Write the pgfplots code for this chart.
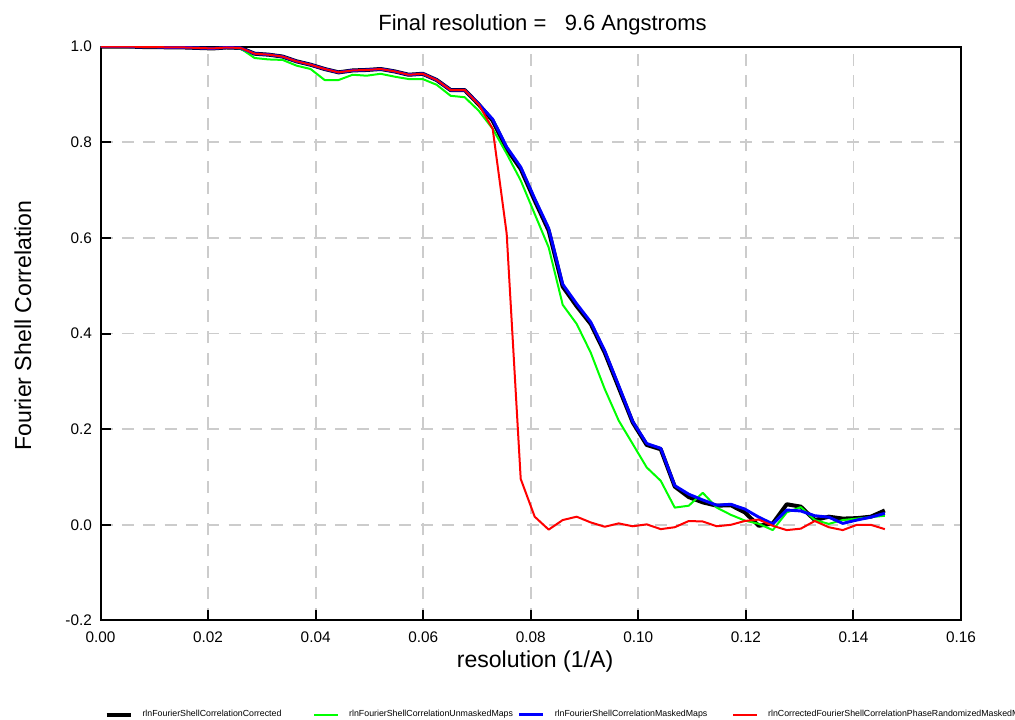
\documentclass[border=0pt]{standalone}
\usepackage{pgfplots}
\usepackage{pgfplotstable}
\pgfplotsset{compat=1.18}
\usepackage{fontspec}
\setmainfont{Liberation Sans}
\definecolor{fscgreen}{RGB}{0,255,0}
\definecolor{fscblue}{RGB}{0,0,255}
\definecolor{fscred}{RGB}{255,0,0}
\definecolor{gridgray}{RGB}{204,204,204}

\pgfplotstableread{
x       blk    grn    blu    red
0.00000 1.000  1.000  1.000  1.000
0.00260 1.000  1.000  1.000  1.000
0.00521 1.000  1.000  1.000  1.000
0.00781 0.999  0.999  0.999  0.999
0.01042 0.999  0.999  0.999  0.999
0.01302 0.998  0.998  0.998  0.998
0.01563 0.998  0.998  0.998  0.998
0.01823 0.997  0.997  0.997  0.997
0.02083 0.996  0.996  0.996  0.996
0.02344 0.998  0.998  0.998  0.998
0.02604 0.997  0.996  0.997  0.997
0.02865 0.985  0.976  0.985  0.985
0.03125 0.983  0.973  0.983  0.983
0.03385 0.979  0.972  0.979  0.979
0.03646 0.969  0.960  0.969  0.969
0.03906 0.962  0.953  0.962  0.962
0.04167 0.953  0.930  0.953  0.953
0.04427 0.946  0.930  0.946  0.946
0.04688 0.950  0.941  0.950  0.950
0.04948 0.951  0.939  0.951  0.951
0.05208 0.953  0.943  0.953  0.953
0.05469 0.948  0.937  0.948  0.948
0.05729 0.941  0.932  0.941  0.941
0.05990 0.943  0.932  0.943  0.943
0.06250 0.930  0.920  0.930  0.930
0.06510 0.909  0.897  0.909  0.909
0.06771 0.909  0.894  0.909  0.909
0.07031 0.879  0.866  0.880  0.879
0.07292 0.845  0.828  0.848  0.828
0.07552 0.786  0.776  0.790  0.609
0.07813 0.744  0.720  0.748  0.096
0.08073 0.678  0.650  0.682  0.017
0.08333 0.615  0.580  0.620  -0.010
0.08594 0.498  0.460  0.503  0.010
0.08854 0.457  0.420  0.462  0.017
0.09115 0.420  0.360  0.424  0.005
0.09375 0.360  0.284  0.364  -0.004
0.09635 0.287  0.218  0.291  0.003
0.09896 0.214  0.169  0.216  -0.003
0.10156 0.167  0.120  0.170  0.001
0.10417 0.158  0.092  0.160  -0.009
0.10677 0.080  0.036  0.082  -0.005
0.10938 0.058  0.040  0.064  0.008
0.11198 0.047  0.067  0.052  0.007
0.11458 0.040  0.036  0.041  -0.003
0.11719 0.041  0.021  0.043  0.000
0.11979 0.026  0.009  0.033  0.008
0.12240 -0.002 0.002  0.016  0.011
0.12500 0.003  -0.011 0.002  -0.002
0.12760 0.043  0.026  0.031  -0.011
0.13021 0.038  0.037  0.029  -0.008
0.13281 0.010  0.010  0.019  0.008
0.13542 0.017  0.002  0.016  -0.005
0.13802 0.013  0.010  0.003  -0.011
0.14063 0.014  0.013  0.010  0.000
0.14323 0.017  0.016  0.016  0.000
0.14583 0.030  0.019  0.024  -0.009
}\fscdata

\begin{document}
\begin{tikzpicture}
\path[use as bounding box] (-75.4bp,-74.6bp) rectangle (685.9bp,465.4bp);
\begin{axis}[
  scale only axis,
  width=645.4bp, height=430.5bp,
  xmin=0, xmax=0.16, ymin=-0.2, ymax=1.0,
  xtick={0,0.02,0.04,0.06,0.08,0.1,0.12,0.14,0.16},
  ytick={-0.2,0,0.2,0.4,0.6,0.8,1.0},
  xticklabel style={yshift=-5bp, /pgf/number format/.cd, fixed, fixed zerofill, precision=2},
  yticklabel style={xshift=-3bp, /pgf/number format/.cd, fixed, fixed zerofill, precision=1},
  /pgf/number format/assume math mode=true,
  ticklabel style={font=\fontsize{11.5bp}{13bp}\selectfont},
  tick align=inside,
  xtick pos=bottom, ytick pos=left,
  major tick length=7.5bp,
  tick style={black, line width=1.5bp},
  axis line style={black, line width=1.5bp},
  grid=major,
  major grid style={gridgray, line width=1.3bp, dash pattern=on 9bp off 7bp},
  title={Final resolution =\ \ \ 9.6 Angstroms},
  title style={at={(axis description cs:0.5,1)}, anchor=base, yshift=5.7bp, xshift=8.8bp,
    font=\fontsize{16.5bp}{19bp}\selectfont},
  xlabel={resolution (1/A)},
  xlabel style={at={(axis description cs:0.5,0)}, anchor=base, yshift=-35.6bp, xshift=3.2bp,
    font=\fontsize{17.3bp}{20bp}\selectfont},
  ylabel={Fourier Shell Correlation},
  ylabel style={at={(axis description cs:-0.0808,0.514)}, anchor=base,
    font=\fontsize{17.3bp}{20bp}\selectfont},
  legend columns=4,
  legend style={at={(axis description cs:0.0047,-0.1638)}, anchor=west, draw=none, fill=none,
    inner sep=0pt, outer sep=0pt, column sep=7.5bp,
    nodes={inner sep=0pt},
    /tikz/every even column/.append style={column sep=0pt},
    font=\fontsize{6.6bp}{8bp}\selectfont},
  legend cell align=left,
  legend image code/.code={\draw[#1] (0bp,0bp) -- (18bp,0bp);},
  every axis plot/.append style={line join=round},
]
\addplot[black, line width=3bp] table[x=x, y=blk] {\fscdata};
\addlegendentry{\makebox[128bp][l]{rlnFourierShellCorrelationCorrected}}
\addplot[fscgreen, line width=1.5bp] table[x=x, y=grn] {\fscdata};
\addlegendentry{\makebox[126.5bp][l]{rlnFourierShellCorrelationUnmaskedMaps}}
\addplot[fscblue, line width=2.2bp] table[x=x, y=blu] {\fscdata};
\addlegendentry{\makebox[133bp][l]{rlnFourierShellCorrelationMaskedMaps}}
\addplot[fscred, line width=1.5bp] table[x=x, y=red] {\fscdata};
\addlegendentry{rlnCorrectedFourierShellCorrelationPhaseRandomizedMaskedMaps}
\end{axis}
\end{tikzpicture}
\end{document}
